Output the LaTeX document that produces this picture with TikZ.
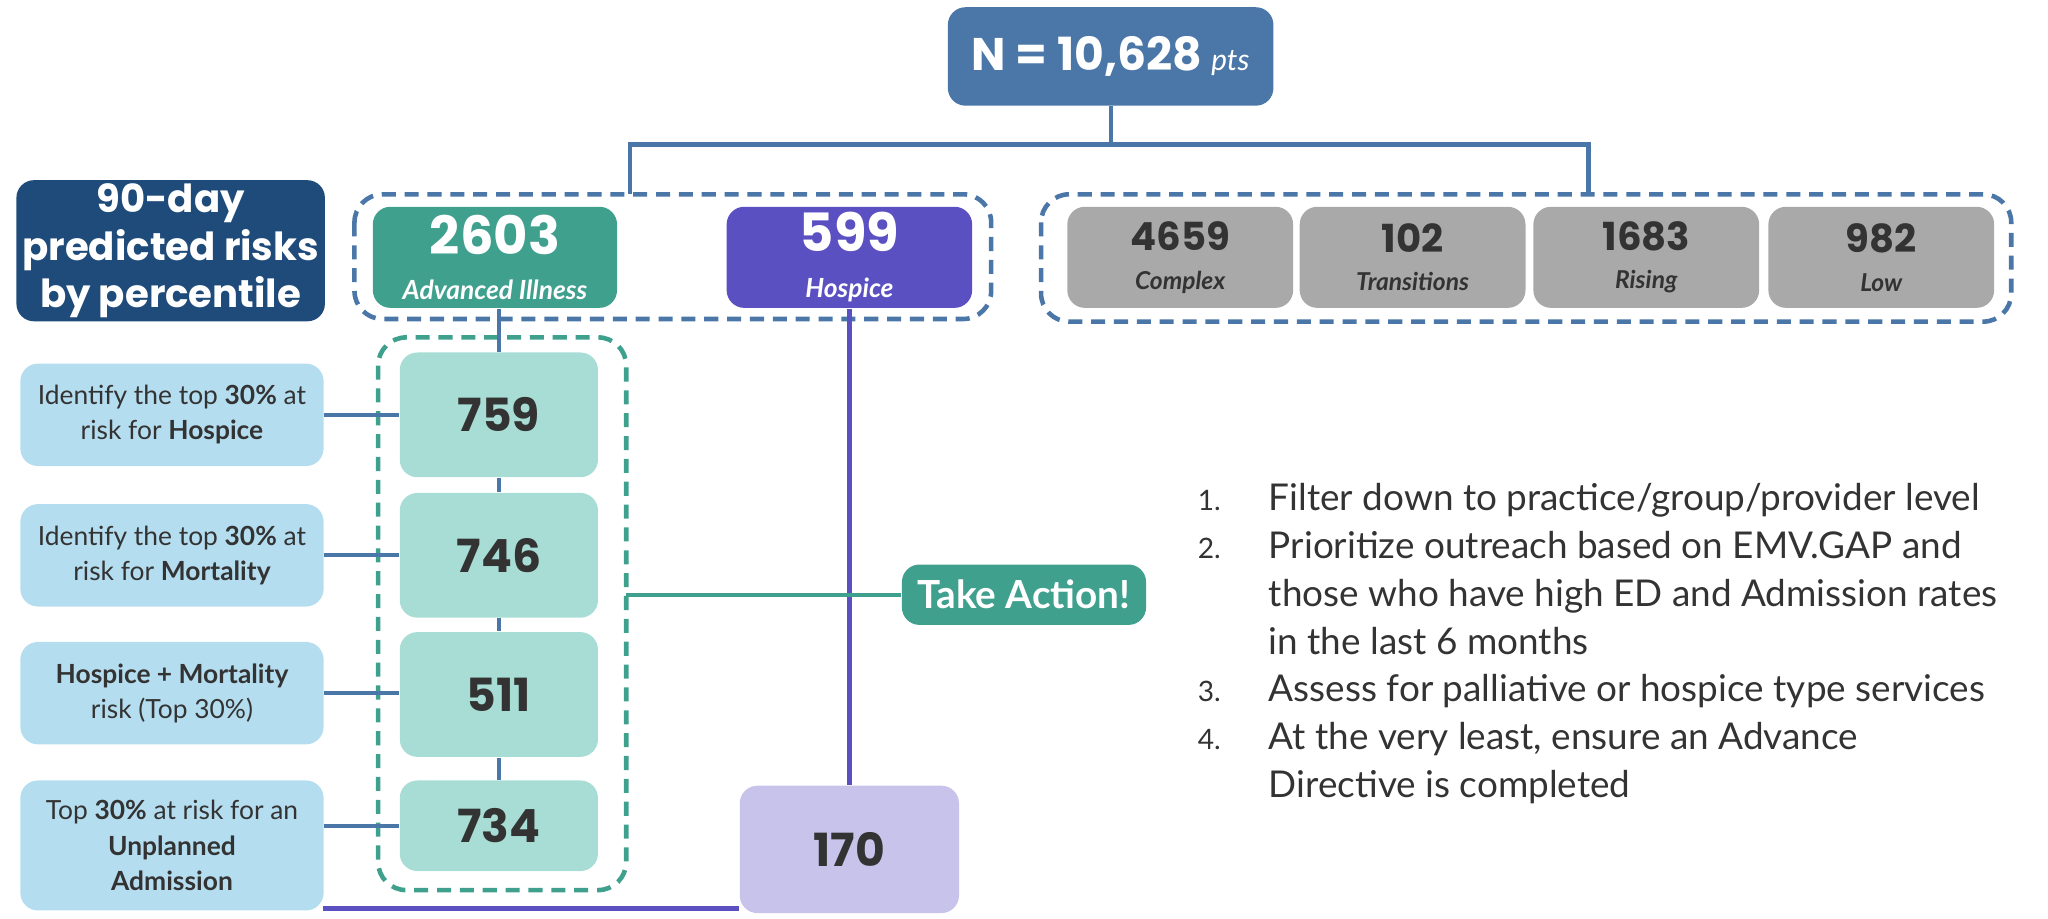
\documentclass[tikz,border=0pt]{standalone}
\usepackage{fontspec}
\setmainfont{Lato}
\newfontfamily\numfont{Poppins}
\usetikzlibrary{positioning}
\definecolor{nblue}{HTML}{4A76A8}
\definecolor{navy}{HTML}{1F4B7A}
\definecolor{teal}{HTML}{3FA08E}
\definecolor{hpurp}{HTML}{5B50C2}
\definecolor{lav}{HTML}{C8C3EA}
\definecolor{mint}{HTML}{A8DDD5}
\definecolor{sky}{HTML}{B5DDF0}
\definecolor{grey}{HTML}{A9A9A9}
\definecolor{ink}{HTML}{333333}
\tikzset{
  box/.style={rounded corners=5, inner sep=1pt, align=center},
  risk/.style={box, fill=sky, text=ink, minimum width=231*1.313*0.01cm, font=\fontsize{7.5}{10}\selectfont},
  cnt/.style={box, fill=mint, text=ink, minimum width=151*1.313*0.01cm, font=\numfont\bfseries\fontsize{13}{16}\selectfont},
  seg/.style={box, fill=grey, text=ink, minimum width=172*1.313*0.01cm, minimum height=77*1.313*0.01cm},
  group/.style={rounded corners=8, dashed, line width=1.3pt, dash pattern=on 4pt off 2.5pt},
  link/.style={line width=1.2pt}
}
\newcommand{\seglabel}[2]{{\numfont\bfseries\fontsize{11}{13}\selectfont #1}\\[-1pt]{\bfseries\itshape\fontsize{7}{9}\selectfont #2}}
\begin{document}
\begin{tikzpicture}[x=0.01313cm, y=-0.01313cm]
  \useasboundingbox (0,0) rectangle (1560,700);
  % top
  \node[box, fill=nblue, text=white, minimum width=248*1.313*0.01cm, minimum height=75*1.313*0.01cm] (N) at (846,43)
    {{\numfont\bfseries\fontsize{13}{16}\selectfont N = 10,628} {\itshape\fontsize{8.5}{10}\selectfont pts}};
  \node[box, fill=navy, text=white, minimum width=235*1.313*0.01cm, minimum height=103*1.313*0.01cm, font=\numfont\bfseries\fontsize{11}{13.5}\selectfont] (title) at (130,191)
    {90-day\\predicted risks\\by percentile};
  % groups
  \draw[group, nblue] (270,148) rectangle (755,243);
  \draw[group, nblue] (793,148) rectangle (1532,245);
  \coordinate (gl) at (480,148);
  \coordinate (gr) at (1210,148);
  \draw[link, nblue] (N.south) -- (846,110) -| (gl);
  \draw[link, nblue] (846,110) -| (gr);
  \node[box, fill=teal, text=white, minimum width=186*1.313*0.01cm, minimum height=77*1.313*0.01cm] (adv) at (377,196)
    {{\numfont\bfseries\fontsize{15}{17}\selectfont 2603}\\[1pt]{\bfseries\itshape\fontsize{7.5}{9}\selectfont Advanced Illness}};
  \node[box, fill=hpurp, text=white, minimum width=187*1.313*0.01cm, minimum height=77*1.313*0.01cm] (hosp) at (647,196)
    {{\numfont\bfseries\fontsize{15}{17}\selectfont 599}\\[1pt]{\bfseries\itshape\fontsize{7.5}{9}\selectfont Hospice}};
  \node[seg] (cx) at (899,196) {\seglabel{4659}{Complex}};
  \node[seg] (tr) at (1076,196) {\seglabel{102}{Transitions}};
  \node[seg] (ri) at (1254,196) {\seglabel{1683}{Rising}};
  \node[seg] (lo) at (1433,196) {\seglabel{982}{Low}};
  % advanced illness column
  \draw[group, teal] (288,257) rectangle (477,678);
  \node[cnt, minimum height=95*1.313*0.01cm] (c1) at (380,316) {759};
  \node[cnt, minimum height=95*1.313*0.01cm] (c2) at (380,423) {746};
  \node[cnt, minimum height=95*1.313*0.01cm] (c3) at (380,529) {511};
  \node[cnt, minimum height=69*1.313*0.01cm] (c4) at (380,629) {734};
  \draw[link, nblue] (380,235) -- (c1.north);
  \draw[link, nblue] (c1) -- (c2) (c2) -- (c3) (c3) -- (c4);
  \node[risk, minimum height=78*1.313*0.01cm] (r1) at (131,316) {Identify the top \textbf{30\%} at\\risk for \textbf{Hospice}};
  \node[risk, minimum height=78*1.313*0.01cm] (r2) at (131,423) {Identify the top \textbf{30\%} at\\risk for \textbf{Mortality}};
  \node[risk, minimum height=78*1.313*0.01cm] (r3) at (131,528) {\textbf{Hospice + Mortality}\\risk (Top 30\%)};
  \node[risk, minimum height=99*1.313*0.01cm] (r4) at (131,644) {Top \textbf{30\%} at risk for an\\\textbf{Unplanned}\\\textbf{Admission}};
  \foreach \r/\c in {r1/c1, r2/c2, r3/c3} \draw[link, nblue] (\r.east) -- (\r.east -| \c.west);
  \draw[link, nblue] (c4.west -| r4.east) -- (c4.west);
  % hospice column
  \node[box, fill=lav, text=ink, minimum width=167*1.313*0.01cm, minimum height=97*1.313*0.01cm, font=\numfont\bfseries\fontsize{13}{16}\selectfont] (h170) at (647,647) {170};
  \draw[link, hpurp] (hosp.south) -- (h170.north);
  \draw[link, hpurp] (246,692) -- (h170.west |- 0,692);
  % action
  \node[box, fill=teal, text=white, minimum width=186*1.313*0.01cm, minimum height=46*1.313*0.01cm, font=\bfseries\fontsize{11}{14}\selectfont] (act) at (780,453) {Take Action!};
  \draw[link, teal] (477,453) -- (act.west);
  \node[anchor=north west, text=ink, align=left, font=\fontsize{10.5}{13.6}\selectfont] (steps) at (903,354) {%
    \begin{tabular}{@{}r@{\hspace{1.3em}}l@{}}
    {\footnotesize 1.} & Filter down to practice/group/provider level\\
    {\footnotesize 2.} & Prioritize outreach based on EMV.GAP and\\
     & those who have high ED and Admission rates\\
     & in the last 6 months\\
    {\footnotesize 3.} & Assess for palliative or hospice type services\\
    {\footnotesize 4.} & At the very least, ensure an Advance\\
     & Directive is completed
    \end{tabular}};
\end{tikzpicture}
\end{document}
